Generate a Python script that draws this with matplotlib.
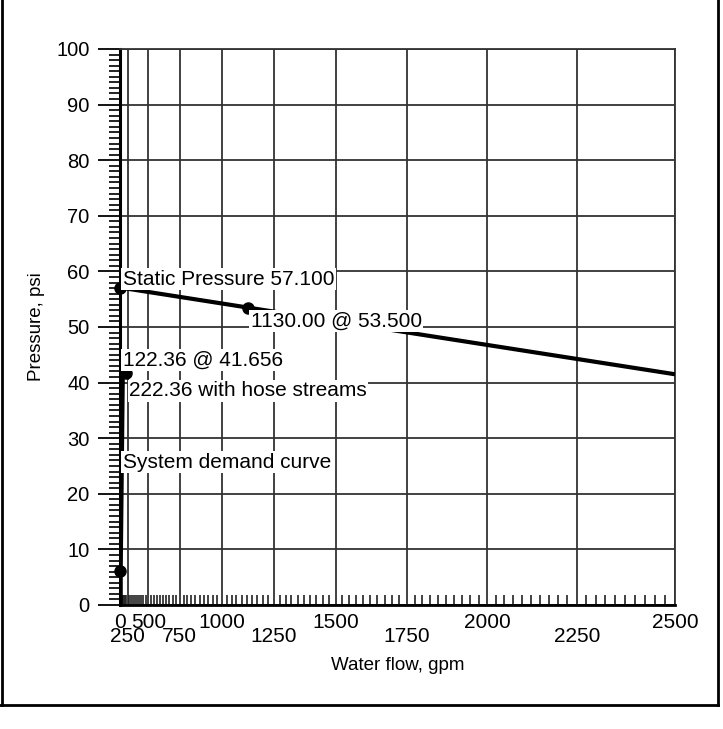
import numpy as np
import matplotlib
matplotlib.use("Agg")
import matplotlib.pyplot as plt
from matplotlib.lines import Line2D
from matplotlib.transforms import ScaledTranslation

plt.rcParams['font.family'] = ['Liberation Sans', 'DejaVu Sans']

# ---- data ----
supply_flow = [0, 1130.00, 2500]
supply_pressure = [57.100, 53.500, 41.5]

demand_flow = [0, 0, 122.36, 222.36]
demand_pressure = [0, 6.2, 41.656, 41.656]

marker_flow = [0, 1130.00, 222.36, 0]
marker_pressure = [57.100, 53.500, 41.656, 6.2]

x_ticks = [0, 250, 500, 750, 1000, 1250, 1500, 1750, 2000, 2250, 2500]
x_tick_labels = ['0', '250', '500', '750', '1000', '1250', '1500', '1750', '2000', '2250', '2500']
y_ticks = [0, 10, 20, 30, 40, 50, 60, 70, 80, 90, 100]

annotations = [
    ("Static Pressure 57.100", 0, 56.9, 'bottom'),
    ("1130.00 @ 53.500", 1130.00, 52.8, 'top'),
    ("122.36 @ 41.656", 0, 42.4, 'bottom'),
    ("222.36 with hose streams", 222.36, 40.2, 'top'),
    ("System demand curve", 0, 25.7, 'center'),
]

EXP = 1.85
def fwd(x):
    x = np.asarray(x, dtype=float)
    return np.sign(x) * np.abs(x) ** EXP
def inv(y):
    y = np.asarray(y, dtype=float)
    return np.sign(y) * np.abs(y) ** (1.0 / EXP)

fig = plt.figure(figsize=(7.23, 7.29), dpi=100)
ax = fig.add_axes([120/723, 1-605/729, (675-120)/723, (605-49)/729])
ax.set_xscale('function', functions=(fwd, inv))
ax.set_xlim(0, 2500)
ax.set_ylim(0, 100)

gc = '#333333'
ax.set_xticks(x_ticks)
ax.set_xticklabels(x_tick_labels)
ax.set_xticks(np.arange(0, 2501, 25), minor=True)
ax.set_yticks(y_ticks)
ax.set_yticks(np.arange(0, 101, 1), minor=True)
ax.grid(True, which='major', color=gc, linewidth=1.3)
ax.set_axisbelow(True)

ax.tick_params(axis='x', which='major', direction='in', length=0, pad=6, labelsize=15)
ax.tick_params(axis='x', which='minor', direction='in', length=7, width=1.2, color='#222222')
ax.tick_params(axis='y', which='major', direction='out', length=16, width=1.3, pad=6, labelsize=14.5)
ax.tick_params(axis='y', which='minor', direction='out', length=8, width=1.4, color='#222222')

for i, t in enumerate(ax.xaxis.get_major_ticks()):
    if i % 2 == 1:
        t.set_pad(16)

for side in ['top', 'right']:
    ax.spines[side].set_color(gc)
    ax.spines[side].set_linewidth(1.3)
ax.spines['left'].set_linewidth(2.2)
ax.spines['bottom'].set_linewidth(2.0)

ax.set_xlabel('Water flow, gpm', fontsize=13.5, labelpad=8)
ax.set_ylabel('Pressure, psi', fontsize=13.5, labelpad=8)

ax.plot(supply_flow, supply_pressure, color='black', linewidth=3, solid_capstyle='butt', zorder=3)
ax.plot(demand_flow, demand_pressure, color='black', linewidth=4, zorder=3)
ax.plot(marker_flow, marker_pressure, linestyle='none', marker='o', markersize=8,
        color='black', zorder=4, clip_on=False)

for txt, xv, yv, va in annotations:
    t = ax.text(xv, yv, txt, fontsize=15, ha='left', va=va, zorder=5,
                bbox=dict(facecolor='white', edgecolor='none', pad=1.0))
    t.set_transform(ax.transData + ScaledTranslation(2/72, 0, fig.dpi_scale_trans))

# outer frame
fig.add_artist(Line2D([1.5/723, 1.5/723], [1-705/729, 1], transform=fig.transFigure, color='black', linewidth=2))
fig.add_artist(Line2D([718/723, 718/723], [1-705/729, 1], transform=fig.transFigure, color='black', linewidth=2))
fig.add_artist(Line2D([0, 718/723], [1-705/729, 1-705/729], transform=fig.transFigure, color='black', linewidth=2))

fig.savefig('out.png', dpi=100)
